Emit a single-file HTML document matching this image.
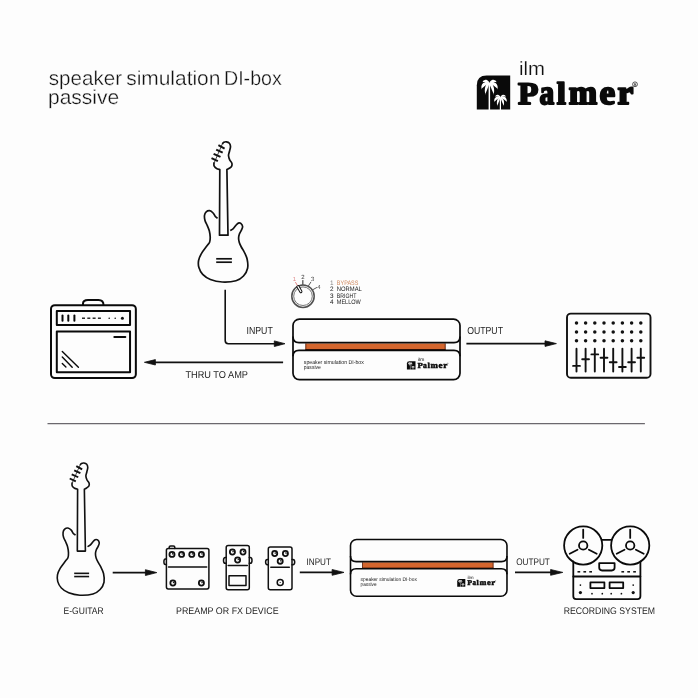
<!DOCTYPE html>
<html><head><meta charset="utf-8"><title>speaker simulation DI-box passive</title>
<style>html,body{margin:0;padding:0;background:#fdfdfd;width:698px;height:698px;overflow:hidden}svg{display:block;will-change:transform;text-rendering:geometricPrecision}</style>
</head><body>
<svg width="698" height="698" viewBox="0 0 698 698">
<rect width="698" height="698" fill="#fdfdfd"/>
<g font-family="Liberation Sans" fill="#111" font-size="19.2" stroke="#fdfdfd" stroke-width="0.3">
<g transform="translate(0,84.5) scale(1,1.06) translate(0,-84.5)">
<text x="48.8" y="84.5" textLength="73.2" lengthAdjust="spacingAndGlyphs">speaker</text>
<text x="126.2" y="84.5" textLength="94.2" lengthAdjust="spacingAndGlyphs">simulation</text>
<text x="224.0" y="84.5" textLength="57.8" lengthAdjust="spacingAndGlyphs">DI-box</text>
</g>
<text x="48.0" y="103.8" textLength="71.2" lengthAdjust="spacingAndGlyphs" transform="translate(0,103.8) scale(1,1.06) translate(0,-103.8)">passive</text>
</g>
<path d="M476.8,109.4 V85.2 Q476.8,75.4 486.6,75.4 H510.2 V109.4 Z" fill="#0a0a0a"/>
<g fill="#fff" stroke="none">
<rect x="488.6" y="83" width="1.5" height="27"/>
<path d="M489.47,83.13 L489.17,82.25 L488.72,81.53 L488.19,80.93 L487.60,80.45 L486.94,80.09 L486.24,79.87 L485.52,79.81 L484.81,79.92 L484.15,80.18 L483.57,80.59 L483.09,81.12 L482.74,81.79 L482.31,82.35 L481.81,82.89 L481.81,82.89 L482.32,82.36 L482.92,82.01 L483.61,81.96 L484.17,81.93 L484.65,81.95 L485.06,82.00 L485.43,82.06 L485.79,82.14 L486.19,82.22 L486.65,82.34 L487.18,82.50 L487.78,82.71 L488.47,82.99 L489.33,83.27Z"/><path d="M489.47,83.27 L490.33,82.99 L491.02,82.72 L491.63,82.50 L492.17,82.34 L492.65,82.23 L493.07,82.14 L493.47,82.06 L493.89,82.00 L494.34,81.95 L494.86,81.94 L495.47,81.96 L496.20,82.01 L496.84,82.36 L497.41,82.89 L497.41,82.89 L496.85,82.35 L496.36,81.79 L495.95,81.11 L495.42,80.58 L494.80,80.18 L494.12,79.92 L493.39,79.81 L492.64,79.87 L491.92,80.08 L491.25,80.44 L490.63,80.93 L490.09,81.53 L489.63,82.24 L489.33,83.13Z"/><path d="M489.41,83.06 L488.42,82.42 L487.40,82.12 L486.37,82.02 L485.36,82.10 L484.40,82.39 L483.52,82.86 L482.76,83.50 L482.14,84.30 L481.70,85.20 L481.43,86.18 L481.35,87.23 L481.52,88.34 L481.46,89.39 L481.29,90.48 L481.29,90.48 L481.48,89.40 L481.90,88.45 L482.67,87.74 L483.32,87.14 L483.90,86.65 L484.43,86.25 L484.92,85.91 L485.37,85.60 L485.84,85.30 L486.34,84.98 L486.92,84.63 L487.61,84.27 L488.42,83.89 L489.39,83.34Z"/><path d="M489.41,83.34 L490.38,83.89 L491.20,84.27 L491.90,84.63 L492.51,84.98 L493.03,85.31 L493.53,85.62 L494.02,85.94 L494.54,86.28 L495.10,86.69 L495.72,87.17 L496.40,87.77 L497.21,88.46 L497.68,89.40 L497.93,90.48 L497.93,90.48 L497.70,89.39 L497.59,88.33 L497.69,87.20 L497.56,86.14 L497.24,85.16 L496.76,84.26 L496.12,83.48 L495.33,82.84 L494.44,82.38 L493.46,82.10 L492.44,82.01 L491.41,82.12 L490.38,82.42 L489.39,83.06Z"/><path d="M489.34,83.10 L488.48,83.09 L487.72,83.41 L487.03,83.91 L486.42,84.57 L485.89,85.35 L485.47,86.25 L485.16,87.25 L484.94,88.35 L484.83,89.52 L484.81,90.78 L484.91,92.11 L485.18,93.52 L485.22,94.98 L485.14,96.51 L485.14,96.51 L485.24,94.98 L485.52,93.56 L486.10,92.27 L486.58,91.07 L487.01,89.98 L487.41,88.99 L487.77,88.09 L488.09,87.28 L488.38,86.54 L488.63,85.87 L488.86,85.25 L489.07,84.66 L489.28,84.05 L489.46,83.30Z"/><path d="M489.34,83.30 L489.52,84.05 L489.74,84.66 L489.96,85.26 L490.20,85.89 L490.47,86.56 L490.78,87.30 L491.12,88.12 L491.50,89.02 L491.92,90.01 L492.38,91.10 L492.89,92.28 L493.51,93.56 L493.83,94.98 L493.98,96.51 L493.98,96.51 L493.85,94.98 L493.85,93.52 L494.08,92.09 L494.14,90.75 L494.10,89.49 L493.95,88.32 L493.71,87.23 L493.37,86.23 L492.93,85.33 L492.40,84.55 L491.78,83.90 L491.08,83.40 L490.32,83.09 L489.46,83.10Z"/>
<rect x="499.8" y="97.5" width="1.2" height="12.5"/>
<path d="M500.45,97.35 L500.23,96.67 L499.88,96.12 L499.47,95.66 L499.01,95.28 L498.51,95.01 L497.97,94.84 L497.42,94.79 L496.87,94.88 L496.36,95.08 L495.92,95.39 L495.55,95.80 L495.28,96.32 L494.95,96.74 L494.56,97.16 L494.56,97.16 L494.95,96.75 L495.41,96.48 L495.94,96.44 L496.38,96.42 L496.75,96.44 L497.06,96.48 L497.34,96.53 L497.63,96.58 L497.93,96.65 L498.29,96.74 L498.69,96.86 L499.16,97.03 L499.69,97.24 L500.35,97.45Z"/><path d="M500.45,97.45 L501.11,97.24 L501.65,97.03 L502.12,96.86 L502.53,96.74 L502.90,96.65 L503.22,96.58 L503.53,96.53 L503.85,96.48 L504.20,96.44 L504.60,96.43 L505.07,96.45 L505.63,96.49 L506.12,96.75 L506.56,97.16 L506.56,97.16 L506.13,96.74 L505.75,96.31 L505.44,95.79 L505.03,95.38 L504.56,95.08 L504.03,94.88 L503.47,94.79 L502.89,94.84 L502.34,95.00 L501.82,95.28 L501.35,95.65 L500.93,96.12 L500.58,96.66 L500.35,97.35Z"/><path d="M500.41,97.29 L499.65,96.80 L498.86,96.57 L498.07,96.49 L497.30,96.56 L496.55,96.77 L495.88,97.14 L495.29,97.63 L494.82,98.24 L494.48,98.94 L494.27,99.70 L494.21,100.50 L494.34,101.35 L494.29,102.16 L494.16,103.00 L494.16,103.00 L494.31,102.17 L494.63,101.44 L495.22,100.89 L495.72,100.43 L496.17,100.05 L496.58,99.74 L496.95,99.49 L497.30,99.25 L497.66,99.01 L498.04,98.77 L498.49,98.50 L499.02,98.22 L499.65,97.93 L500.39,97.51Z"/><path d="M500.41,97.51 L501.16,97.93 L501.79,98.22 L502.33,98.50 L502.79,98.77 L503.20,99.02 L503.58,99.26 L503.95,99.51 L504.35,99.77 L504.78,100.08 L505.26,100.46 L505.78,100.91 L506.41,101.45 L506.77,102.17 L506.96,103.00 L506.96,103.00 L506.79,102.16 L506.70,101.35 L506.78,100.48 L506.67,99.67 L506.43,98.91 L506.06,98.22 L505.57,97.61 L504.96,97.12 L504.27,96.77 L503.52,96.55 L502.74,96.49 L501.94,96.57 L501.15,96.80 L500.39,97.29Z"/><path d="M500.35,97.32 L499.70,97.32 L499.11,97.56 L498.58,97.95 L498.10,98.45 L497.70,99.06 L497.38,99.75 L497.14,100.52 L496.97,101.36 L496.88,102.26 L496.87,103.23 L496.95,104.25 L497.16,105.34 L497.18,106.46 L497.12,107.64 L497.12,107.64 L497.20,106.46 L497.41,105.37 L497.86,104.37 L498.23,103.46 L498.56,102.62 L498.87,101.85 L499.14,101.16 L499.39,100.54 L499.61,99.97 L499.81,99.46 L499.98,98.98 L500.14,98.52 L500.31,98.05 L500.45,97.48Z"/><path d="M500.35,97.48 L500.50,98.06 L500.66,98.52 L500.83,98.99 L501.02,99.47 L501.22,99.99 L501.46,100.56 L501.72,101.18 L502.02,101.88 L502.34,102.64 L502.70,103.47 L503.09,104.39 L503.56,105.37 L503.81,106.46 L503.92,107.64 L503.92,107.64 L503.82,106.46 L503.82,105.34 L504.00,104.24 L504.05,103.21 L504.01,102.24 L503.90,101.34 L503.72,100.50 L503.46,99.73 L503.12,99.04 L502.71,98.44 L502.23,97.94 L501.69,97.56 L501.10,97.32 L500.45,97.32Z"/>
</g>
<text x="519" y="74.8" font-family="Liberation Sans" font-size="19" fill="#111" stroke="#fdfdfd" stroke-width="0.2" textLength="26" lengthAdjust="spacingAndGlyphs">ilm</text>
<g font-family="Liberation Serif" font-weight="bold" font-size="30" fill="#0a0a0a" stroke="#0a0a0a" stroke-width="1.8" stroke-linejoin="round"><text x="518.0" y="103.8" textLength="20.4" lengthAdjust="spacingAndGlyphs" transform="translate(0,103.8) scale(1,1.05) translate(0,-103.8)">P</text><text x="539.5" y="103.8" textLength="14.7" lengthAdjust="spacingAndGlyphs" transform="translate(0,103.8) scale(1,1.15) translate(0,-103.8)">a</text><text x="556.7" y="103.8" textLength="9.2" lengthAdjust="spacingAndGlyphs" transform="translate(0,103.8) scale(1,1.05) translate(0,-103.8)">l</text><text x="568.7" y="103.8" textLength="28.5" lengthAdjust="spacingAndGlyphs" transform="translate(0,103.8) scale(1,1.15) translate(0,-103.8)">m</text><text x="599.5" y="103.8" textLength="15.7" lengthAdjust="spacingAndGlyphs" transform="translate(0,103.8) scale(1,1.15) translate(0,-103.8)">e</text><text x="617.5" y="103.8" textLength="15.8" lengthAdjust="spacingAndGlyphs" transform="translate(0,103.8) scale(1,1.15) translate(0,-103.8)">r</text></g>
<circle cx="635" cy="84.3" r="2.4" fill="none" stroke="#111" stroke-width="0.7"/>
<text x="635" y="85.6" font-family="Liberation Sans" font-size="3.5" font-weight="bold" fill="#111" text-anchor="middle">R</text>
<g fill="none" stroke="#111" stroke-width="1.7" stroke-linejoin="round" stroke-linecap="butt">
<path d="M222.30,144.00 C222.57,143.72 223.22,142.67 223.90,142.30 C224.58,141.93 225.48,141.65 226.40,141.80 C227.32,141.95 228.72,142.40 229.40,143.20 C230.08,144.00 230.48,145.25 230.50,146.60 C230.52,147.95 229.83,149.80 229.50,151.30 C229.17,152.80 228.47,154.18 228.50,155.60 C228.53,157.02 229.13,158.53 229.70,159.80 C230.27,161.07 231.58,162.12 231.90,163.20 C232.22,164.28 232.05,165.45 231.60,166.30 C231.15,167.15 229.98,167.75 229.20,168.30 C228.42,168.85 227.28,169.38 226.90,169.60 L228.0,235.2 L219.5,235.2 L219.8,169.6 C219.27,169.42 217.53,169.07 216.60,168.50 C215.67,167.93 214.65,167.02 214.20,166.20 C213.75,165.38 213.87,164.25 213.90,163.60 C213.93,162.95 214.32,162.52 214.40,162.30"/>
<path d="M214.4,162.3 L222.3,144.0" stroke-width="0.8"/>
<path d="M217.60,218.20 C217.22,217.92 216.05,217.37 215.30,216.50 C214.55,215.63 214.05,213.97 213.10,213.00 C212.15,212.03 210.75,210.88 209.60,210.70 C208.45,210.52 207.05,211.13 206.20,211.90 C205.35,212.67 204.70,213.87 204.50,215.30 C204.30,216.73 204.53,218.78 205.00,220.50 C205.47,222.22 206.58,223.88 207.30,225.60 C208.02,227.32 208.82,228.88 209.30,230.80 C209.78,232.72 210.15,235.20 210.20,237.10 C210.25,239.00 210.13,240.75 209.60,242.20 C209.07,243.65 208.37,243.90 207.00,245.80 C205.63,247.70 202.80,251.15 201.40,253.60 C200.00,256.05 199.02,258.17 198.60,260.50 C198.18,262.83 198.22,265.28 198.90,267.60 C199.58,269.92 200.78,272.42 202.70,274.40 C204.62,276.38 207.15,278.23 210.40,279.50 C213.65,280.77 217.93,281.80 222.20,282.00 C226.47,282.20 232.45,281.70 236.00,280.70 C239.55,279.70 241.57,278.08 243.50,276.00 C245.43,273.92 247.00,271.03 247.60,268.20 C248.20,265.37 247.67,261.70 247.10,259.00 C246.53,256.30 245.17,254.00 244.20,252.00 C243.23,250.00 242.12,248.58 241.30,247.00 C240.48,245.42 239.75,244.00 239.30,242.50 C238.85,241.00 238.58,239.42 238.60,238.00 C238.62,236.58 238.93,235.30 239.40,234.00 C239.87,232.70 240.87,231.45 241.40,230.20 C241.93,228.95 242.70,227.63 242.60,226.50 C242.50,225.37 241.52,223.97 240.80,223.40 C240.08,222.83 239.10,222.80 238.30,223.10 C237.50,223.40 236.83,224.28 236.00,225.20 C235.17,226.12 234.27,227.72 233.30,228.60 C232.33,229.48 230.72,230.18 230.20,230.50"/>
<g stroke-width="2.0"><line x1="218.4" y1="145.1" x2="224.6" y2="148.6"/><line x1="216.2" y1="149.6" x2="222.7" y2="152.6"/><line x1="213.6" y1="153.9" x2="220.5" y2="156.9"/><line x1="211.5" y1="158.2" x2="217.9" y2="161.2"/></g>
<line x1="216.2" y1="258.8" x2="231.9" y2="258.8"/><line x1="216.2" y1="262.2" x2="231.9" y2="262.2"/>
</g>
<g transform="translate(-131.2,329.3) scale(0.95,0.943)"><g fill="none" stroke="#111" stroke-width="1.7" stroke-linejoin="round" stroke-linecap="butt">
<path d="M222.30,144.00 C222.57,143.72 223.22,142.67 223.90,142.30 C224.58,141.93 225.48,141.65 226.40,141.80 C227.32,141.95 228.72,142.40 229.40,143.20 C230.08,144.00 230.48,145.25 230.50,146.60 C230.52,147.95 229.83,149.80 229.50,151.30 C229.17,152.80 228.47,154.18 228.50,155.60 C228.53,157.02 229.13,158.53 229.70,159.80 C230.27,161.07 231.58,162.12 231.90,163.20 C232.22,164.28 232.05,165.45 231.60,166.30 C231.15,167.15 229.98,167.75 229.20,168.30 C228.42,168.85 227.28,169.38 226.90,169.60 L228.0,235.2 L219.5,235.2 L219.8,169.6 C219.27,169.42 217.53,169.07 216.60,168.50 C215.67,167.93 214.65,167.02 214.20,166.20 C213.75,165.38 213.87,164.25 213.90,163.60 C213.93,162.95 214.32,162.52 214.40,162.30"/>
<path d="M214.4,162.3 L222.3,144.0" stroke-width="0.8"/>
<path d="M217.60,218.20 C217.22,217.92 216.05,217.37 215.30,216.50 C214.55,215.63 214.05,213.97 213.10,213.00 C212.15,212.03 210.75,210.88 209.60,210.70 C208.45,210.52 207.05,211.13 206.20,211.90 C205.35,212.67 204.70,213.87 204.50,215.30 C204.30,216.73 204.53,218.78 205.00,220.50 C205.47,222.22 206.58,223.88 207.30,225.60 C208.02,227.32 208.82,228.88 209.30,230.80 C209.78,232.72 210.15,235.20 210.20,237.10 C210.25,239.00 210.13,240.75 209.60,242.20 C209.07,243.65 208.37,243.90 207.00,245.80 C205.63,247.70 202.80,251.15 201.40,253.60 C200.00,256.05 199.02,258.17 198.60,260.50 C198.18,262.83 198.22,265.28 198.90,267.60 C199.58,269.92 200.78,272.42 202.70,274.40 C204.62,276.38 207.15,278.23 210.40,279.50 C213.65,280.77 217.93,281.80 222.20,282.00 C226.47,282.20 232.45,281.70 236.00,280.70 C239.55,279.70 241.57,278.08 243.50,276.00 C245.43,273.92 247.00,271.03 247.60,268.20 C248.20,265.37 247.67,261.70 247.10,259.00 C246.53,256.30 245.17,254.00 244.20,252.00 C243.23,250.00 242.12,248.58 241.30,247.00 C240.48,245.42 239.75,244.00 239.30,242.50 C238.85,241.00 238.58,239.42 238.60,238.00 C238.62,236.58 238.93,235.30 239.40,234.00 C239.87,232.70 240.87,231.45 241.40,230.20 C241.93,228.95 242.70,227.63 242.60,226.50 C242.50,225.37 241.52,223.97 240.80,223.40 C240.08,222.83 239.10,222.80 238.30,223.10 C237.50,223.40 236.83,224.28 236.00,225.20 C235.17,226.12 234.27,227.72 233.30,228.60 C232.33,229.48 230.72,230.18 230.20,230.50"/>
<g stroke-width="2.0"><line x1="218.4" y1="145.1" x2="224.6" y2="148.6"/><line x1="216.2" y1="149.6" x2="222.7" y2="152.6"/><line x1="213.6" y1="153.9" x2="220.5" y2="156.9"/><line x1="211.5" y1="158.2" x2="217.9" y2="161.2"/></g>
<line x1="216.2" y1="258.8" x2="231.9" y2="258.8"/><line x1="216.2" y1="262.2" x2="231.9" y2="262.2"/>
</g></g>
<g>
<circle cx="303" cy="296.2" r="11.2" fill="none" stroke="#505050" stroke-width="1.5"/>
<circle cx="303" cy="296.2" r="9.3" fill="none" stroke="#666" stroke-width="0.9"/>
<line x1="298.0" y1="286.6" x2="300.9" y2="291.6" stroke="#111" stroke-width="3.1" stroke-linecap="round"/>
<line x1="298.0" y1="286.6" x2="300.9" y2="291.6" stroke="#fff" stroke-width="1.2" stroke-linecap="round"/>
<g stroke-width="0.9" stroke-linecap="round">
<line x1="297.2" y1="285.2" x2="295.6" y2="282.4" stroke="#e07a7a"/>
<line x1="302.8" y1="284.5" x2="302.8" y2="280.6" stroke="#555" stroke-width="1.3"/>
<line x1="308.6" y1="285.6" x2="310.8" y2="282.2" stroke="#444"/>
<line x1="313.4" y1="289.4" x2="316.6" y2="287.6" stroke="#444"/>
</g>
<g font-family="Liberation Sans" font-size="6" fill="#444" text-anchor="middle">
<text x="294.3" y="281.2" fill="#e08a8a">1</text>
<text x="302.8" y="279.0">2</text>
<text x="312.6" y="281.3">3</text>
<text x="319.0" y="288.6">4</text>
</g>
<g font-family="Liberation Sans" font-size="6.4" fill="#222">
<text x="329.9" y="284.7" fill="#888">1</text>
<text x="329.9" y="291.1">2</text>
<text x="329.9" y="297.6">3</text>
<text x="329.9" y="304.0">4</text>
<text x="336.8" y="284.7" fill="#d08a60" textLength="21.6" lengthAdjust="spacingAndGlyphs">BYPASS</text>
<text x="336.8" y="291.1" textLength="25" lengthAdjust="spacingAndGlyphs">NORMAL</text>
<text x="336.8" y="297.6" textLength="19.7" lengthAdjust="spacingAndGlyphs">BRIGHT</text>
<text x="336.8" y="304.0" textLength="24" lengthAdjust="spacingAndGlyphs">MELLOW</text>
</g>
</g>
<g>
<rect x="305.5" y="343.4" width="140" height="6.6" fill="#d4662e"/>
<line x1="305.5" y1="349.6" x2="445.5" y2="349.6" stroke="#3a0d00" stroke-width="1"/>
<line x1="305.8" y1="343.4" x2="305.8" y2="350" stroke="#3a0d00" stroke-width="0.7"/><line x1="445.2" y1="343.4" x2="445.2" y2="350" stroke="#3a0d00" stroke-width="0.7"/>
<g fill="none" stroke="#0a0a0a" stroke-width="1.7">
<rect x="293" y="319.1" width="167" height="60.6" rx="6.5" ry="6.5"/>
<path d="M293,336.6 Q293,342.7 299,342.7 H454 Q460,342.7 460,336.6"/>
<path d="M293,356.2 Q293,350.4 299,350.4 H454 Q460,350.4 460,356.2"/>
</g>
<text x="303.8" y="363.8" font-family="Liberation Sans" font-size="5.6" fill="#222" textLength="60" lengthAdjust="spacingAndGlyphs">speaker simulation DI-box</text>
<text x="303.8" y="368.8" font-family="Liberation Sans" font-size="5.6" fill="#222" textLength="17" lengthAdjust="spacingAndGlyphs">passive</text>
<g transform="translate(406.9,361.2) scale(0.258,0.245) translate(-476.8,-75.4)"><path d="M476.8,109.4 V85.2 Q476.8,75.4 486.6,75.4 H510.2 V109.4 Z" fill="#0a0a0a"/>
<g fill="#fff" stroke="none">
<rect x="488.6" y="83" width="1.5" height="27"/>
<path d="M489.47,83.13 L489.17,82.25 L488.72,81.53 L488.19,80.93 L487.60,80.45 L486.94,80.09 L486.24,79.87 L485.52,79.81 L484.81,79.92 L484.15,80.18 L483.57,80.59 L483.09,81.12 L482.74,81.79 L482.31,82.35 L481.81,82.89 L481.81,82.89 L482.32,82.36 L482.92,82.01 L483.61,81.96 L484.17,81.93 L484.65,81.95 L485.06,82.00 L485.43,82.06 L485.79,82.14 L486.19,82.22 L486.65,82.34 L487.18,82.50 L487.78,82.71 L488.47,82.99 L489.33,83.27Z"/><path d="M489.47,83.27 L490.33,82.99 L491.02,82.72 L491.63,82.50 L492.17,82.34 L492.65,82.23 L493.07,82.14 L493.47,82.06 L493.89,82.00 L494.34,81.95 L494.86,81.94 L495.47,81.96 L496.20,82.01 L496.84,82.36 L497.41,82.89 L497.41,82.89 L496.85,82.35 L496.36,81.79 L495.95,81.11 L495.42,80.58 L494.80,80.18 L494.12,79.92 L493.39,79.81 L492.64,79.87 L491.92,80.08 L491.25,80.44 L490.63,80.93 L490.09,81.53 L489.63,82.24 L489.33,83.13Z"/><path d="M489.41,83.06 L488.42,82.42 L487.40,82.12 L486.37,82.02 L485.36,82.10 L484.40,82.39 L483.52,82.86 L482.76,83.50 L482.14,84.30 L481.70,85.20 L481.43,86.18 L481.35,87.23 L481.52,88.34 L481.46,89.39 L481.29,90.48 L481.29,90.48 L481.48,89.40 L481.90,88.45 L482.67,87.74 L483.32,87.14 L483.90,86.65 L484.43,86.25 L484.92,85.91 L485.37,85.60 L485.84,85.30 L486.34,84.98 L486.92,84.63 L487.61,84.27 L488.42,83.89 L489.39,83.34Z"/><path d="M489.41,83.34 L490.38,83.89 L491.20,84.27 L491.90,84.63 L492.51,84.98 L493.03,85.31 L493.53,85.62 L494.02,85.94 L494.54,86.28 L495.10,86.69 L495.72,87.17 L496.40,87.77 L497.21,88.46 L497.68,89.40 L497.93,90.48 L497.93,90.48 L497.70,89.39 L497.59,88.33 L497.69,87.20 L497.56,86.14 L497.24,85.16 L496.76,84.26 L496.12,83.48 L495.33,82.84 L494.44,82.38 L493.46,82.10 L492.44,82.01 L491.41,82.12 L490.38,82.42 L489.39,83.06Z"/><path d="M489.34,83.10 L488.48,83.09 L487.72,83.41 L487.03,83.91 L486.42,84.57 L485.89,85.35 L485.47,86.25 L485.16,87.25 L484.94,88.35 L484.83,89.52 L484.81,90.78 L484.91,92.11 L485.18,93.52 L485.22,94.98 L485.14,96.51 L485.14,96.51 L485.24,94.98 L485.52,93.56 L486.10,92.27 L486.58,91.07 L487.01,89.98 L487.41,88.99 L487.77,88.09 L488.09,87.28 L488.38,86.54 L488.63,85.87 L488.86,85.25 L489.07,84.66 L489.28,84.05 L489.46,83.30Z"/><path d="M489.34,83.30 L489.52,84.05 L489.74,84.66 L489.96,85.26 L490.20,85.89 L490.47,86.56 L490.78,87.30 L491.12,88.12 L491.50,89.02 L491.92,90.01 L492.38,91.10 L492.89,92.28 L493.51,93.56 L493.83,94.98 L493.98,96.51 L493.98,96.51 L493.85,94.98 L493.85,93.52 L494.08,92.09 L494.14,90.75 L494.10,89.49 L493.95,88.32 L493.71,87.23 L493.37,86.23 L492.93,85.33 L492.40,84.55 L491.78,83.90 L491.08,83.40 L490.32,83.09 L489.46,83.10Z"/>
<rect x="499.8" y="97.5" width="1.2" height="12.5"/>
<path d="M500.45,97.35 L500.23,96.67 L499.88,96.12 L499.47,95.66 L499.01,95.28 L498.51,95.01 L497.97,94.84 L497.42,94.79 L496.87,94.88 L496.36,95.08 L495.92,95.39 L495.55,95.80 L495.28,96.32 L494.95,96.74 L494.56,97.16 L494.56,97.16 L494.95,96.75 L495.41,96.48 L495.94,96.44 L496.38,96.42 L496.75,96.44 L497.06,96.48 L497.34,96.53 L497.63,96.58 L497.93,96.65 L498.29,96.74 L498.69,96.86 L499.16,97.03 L499.69,97.24 L500.35,97.45Z"/><path d="M500.45,97.45 L501.11,97.24 L501.65,97.03 L502.12,96.86 L502.53,96.74 L502.90,96.65 L503.22,96.58 L503.53,96.53 L503.85,96.48 L504.20,96.44 L504.60,96.43 L505.07,96.45 L505.63,96.49 L506.12,96.75 L506.56,97.16 L506.56,97.16 L506.13,96.74 L505.75,96.31 L505.44,95.79 L505.03,95.38 L504.56,95.08 L504.03,94.88 L503.47,94.79 L502.89,94.84 L502.34,95.00 L501.82,95.28 L501.35,95.65 L500.93,96.12 L500.58,96.66 L500.35,97.35Z"/><path d="M500.41,97.29 L499.65,96.80 L498.86,96.57 L498.07,96.49 L497.30,96.56 L496.55,96.77 L495.88,97.14 L495.29,97.63 L494.82,98.24 L494.48,98.94 L494.27,99.70 L494.21,100.50 L494.34,101.35 L494.29,102.16 L494.16,103.00 L494.16,103.00 L494.31,102.17 L494.63,101.44 L495.22,100.89 L495.72,100.43 L496.17,100.05 L496.58,99.74 L496.95,99.49 L497.30,99.25 L497.66,99.01 L498.04,98.77 L498.49,98.50 L499.02,98.22 L499.65,97.93 L500.39,97.51Z"/><path d="M500.41,97.51 L501.16,97.93 L501.79,98.22 L502.33,98.50 L502.79,98.77 L503.20,99.02 L503.58,99.26 L503.95,99.51 L504.35,99.77 L504.78,100.08 L505.26,100.46 L505.78,100.91 L506.41,101.45 L506.77,102.17 L506.96,103.00 L506.96,103.00 L506.79,102.16 L506.70,101.35 L506.78,100.48 L506.67,99.67 L506.43,98.91 L506.06,98.22 L505.57,97.61 L504.96,97.12 L504.27,96.77 L503.52,96.55 L502.74,96.49 L501.94,96.57 L501.15,96.80 L500.39,97.29Z"/><path d="M500.35,97.32 L499.70,97.32 L499.11,97.56 L498.58,97.95 L498.10,98.45 L497.70,99.06 L497.38,99.75 L497.14,100.52 L496.97,101.36 L496.88,102.26 L496.87,103.23 L496.95,104.25 L497.16,105.34 L497.18,106.46 L497.12,107.64 L497.12,107.64 L497.20,106.46 L497.41,105.37 L497.86,104.37 L498.23,103.46 L498.56,102.62 L498.87,101.85 L499.14,101.16 L499.39,100.54 L499.61,99.97 L499.81,99.46 L499.98,98.98 L500.14,98.52 L500.31,98.05 L500.45,97.48Z"/><path d="M500.35,97.48 L500.50,98.06 L500.66,98.52 L500.83,98.99 L501.02,99.47 L501.22,99.99 L501.46,100.56 L501.72,101.18 L502.02,101.88 L502.34,102.64 L502.70,103.47 L503.09,104.39 L503.56,105.37 L503.81,106.46 L503.92,107.64 L503.92,107.64 L503.82,106.46 L503.82,105.34 L504.00,104.24 L504.05,103.21 L504.01,102.24 L503.90,101.34 L503.72,100.50 L503.46,99.73 L503.12,99.04 L502.71,98.44 L502.23,97.94 L501.69,97.56 L501.10,97.32 L500.45,97.32Z"/>
</g>
<text x="519" y="74.8" font-family="Liberation Sans" font-size="19" fill="#111"  textLength="26" lengthAdjust="spacingAndGlyphs">ilm</text>
<g font-family="Liberation Serif" font-weight="bold" font-size="30" fill="#0a0a0a" stroke="#0a0a0a" stroke-width="1.8" stroke-linejoin="round"><text x="518.0" y="103.8" textLength="20.4" lengthAdjust="spacingAndGlyphs" transform="translate(0,103.8) scale(1,1.05) translate(0,-103.8)">P</text><text x="539.5" y="103.8" textLength="14.7" lengthAdjust="spacingAndGlyphs" transform="translate(0,103.8) scale(1,1.15) translate(0,-103.8)">a</text><text x="556.7" y="103.8" textLength="9.2" lengthAdjust="spacingAndGlyphs" transform="translate(0,103.8) scale(1,1.05) translate(0,-103.8)">l</text><text x="568.7" y="103.8" textLength="28.5" lengthAdjust="spacingAndGlyphs" transform="translate(0,103.8) scale(1,1.15) translate(0,-103.8)">m</text><text x="599.5" y="103.8" textLength="15.7" lengthAdjust="spacingAndGlyphs" transform="translate(0,103.8) scale(1,1.15) translate(0,-103.8)">e</text><text x="617.5" y="103.8" textLength="15.8" lengthAdjust="spacingAndGlyphs" transform="translate(0,103.8) scale(1,1.15) translate(0,-103.8)">r</text></g>
<circle cx="635" cy="84.3" r="2.4" fill="none" stroke="#111" stroke-width="0.7"/>
<text x="635" y="85.6" font-family="Liberation Sans" font-size="3.5" font-weight="bold" fill="#111" text-anchor="middle">R</text></g>
</g>
<g transform="translate(350.5,539.5) scale(0.937) translate(-293,-319.1)"><g>
<rect x="305.5" y="343.4" width="140" height="6.6" fill="#d4662e"/>
<line x1="305.5" y1="349.6" x2="445.5" y2="349.6" stroke="#3a0d00" stroke-width="1"/>
<line x1="305.8" y1="343.4" x2="305.8" y2="350" stroke="#3a0d00" stroke-width="0.7"/><line x1="445.2" y1="343.4" x2="445.2" y2="350" stroke="#3a0d00" stroke-width="0.7"/>
<g fill="none" stroke="#0a0a0a" stroke-width="1.7">
<rect x="293" y="319.1" width="167" height="60.6" rx="6.5" ry="6.5"/>
<path d="M293,336.6 Q293,342.7 299,342.7 H454 Q460,342.7 460,336.6"/>
<path d="M293,356.2 Q293,350.4 299,350.4 H454 Q460,350.4 460,356.2"/>
</g>
<text x="303.8" y="363.8" font-family="Liberation Sans" font-size="5.6" fill="#222" textLength="60" lengthAdjust="spacingAndGlyphs">speaker simulation DI-box</text>
<text x="303.8" y="368.8" font-family="Liberation Sans" font-size="5.6" fill="#222" textLength="17" lengthAdjust="spacingAndGlyphs">passive</text>
<g transform="translate(406.9,361.2) scale(0.258,0.245) translate(-476.8,-75.4)"><path d="M476.8,109.4 V85.2 Q476.8,75.4 486.6,75.4 H510.2 V109.4 Z" fill="#0a0a0a"/>
<g fill="#fff" stroke="none">
<rect x="488.6" y="83" width="1.5" height="27"/>
<path d="M489.47,83.13 L489.17,82.25 L488.72,81.53 L488.19,80.93 L487.60,80.45 L486.94,80.09 L486.24,79.87 L485.52,79.81 L484.81,79.92 L484.15,80.18 L483.57,80.59 L483.09,81.12 L482.74,81.79 L482.31,82.35 L481.81,82.89 L481.81,82.89 L482.32,82.36 L482.92,82.01 L483.61,81.96 L484.17,81.93 L484.65,81.95 L485.06,82.00 L485.43,82.06 L485.79,82.14 L486.19,82.22 L486.65,82.34 L487.18,82.50 L487.78,82.71 L488.47,82.99 L489.33,83.27Z"/><path d="M489.47,83.27 L490.33,82.99 L491.02,82.72 L491.63,82.50 L492.17,82.34 L492.65,82.23 L493.07,82.14 L493.47,82.06 L493.89,82.00 L494.34,81.95 L494.86,81.94 L495.47,81.96 L496.20,82.01 L496.84,82.36 L497.41,82.89 L497.41,82.89 L496.85,82.35 L496.36,81.79 L495.95,81.11 L495.42,80.58 L494.80,80.18 L494.12,79.92 L493.39,79.81 L492.64,79.87 L491.92,80.08 L491.25,80.44 L490.63,80.93 L490.09,81.53 L489.63,82.24 L489.33,83.13Z"/><path d="M489.41,83.06 L488.42,82.42 L487.40,82.12 L486.37,82.02 L485.36,82.10 L484.40,82.39 L483.52,82.86 L482.76,83.50 L482.14,84.30 L481.70,85.20 L481.43,86.18 L481.35,87.23 L481.52,88.34 L481.46,89.39 L481.29,90.48 L481.29,90.48 L481.48,89.40 L481.90,88.45 L482.67,87.74 L483.32,87.14 L483.90,86.65 L484.43,86.25 L484.92,85.91 L485.37,85.60 L485.84,85.30 L486.34,84.98 L486.92,84.63 L487.61,84.27 L488.42,83.89 L489.39,83.34Z"/><path d="M489.41,83.34 L490.38,83.89 L491.20,84.27 L491.90,84.63 L492.51,84.98 L493.03,85.31 L493.53,85.62 L494.02,85.94 L494.54,86.28 L495.10,86.69 L495.72,87.17 L496.40,87.77 L497.21,88.46 L497.68,89.40 L497.93,90.48 L497.93,90.48 L497.70,89.39 L497.59,88.33 L497.69,87.20 L497.56,86.14 L497.24,85.16 L496.76,84.26 L496.12,83.48 L495.33,82.84 L494.44,82.38 L493.46,82.10 L492.44,82.01 L491.41,82.12 L490.38,82.42 L489.39,83.06Z"/><path d="M489.34,83.10 L488.48,83.09 L487.72,83.41 L487.03,83.91 L486.42,84.57 L485.89,85.35 L485.47,86.25 L485.16,87.25 L484.94,88.35 L484.83,89.52 L484.81,90.78 L484.91,92.11 L485.18,93.52 L485.22,94.98 L485.14,96.51 L485.14,96.51 L485.24,94.98 L485.52,93.56 L486.10,92.27 L486.58,91.07 L487.01,89.98 L487.41,88.99 L487.77,88.09 L488.09,87.28 L488.38,86.54 L488.63,85.87 L488.86,85.25 L489.07,84.66 L489.28,84.05 L489.46,83.30Z"/><path d="M489.34,83.30 L489.52,84.05 L489.74,84.66 L489.96,85.26 L490.20,85.89 L490.47,86.56 L490.78,87.30 L491.12,88.12 L491.50,89.02 L491.92,90.01 L492.38,91.10 L492.89,92.28 L493.51,93.56 L493.83,94.98 L493.98,96.51 L493.98,96.51 L493.85,94.98 L493.85,93.52 L494.08,92.09 L494.14,90.75 L494.10,89.49 L493.95,88.32 L493.71,87.23 L493.37,86.23 L492.93,85.33 L492.40,84.55 L491.78,83.90 L491.08,83.40 L490.32,83.09 L489.46,83.10Z"/>
<rect x="499.8" y="97.5" width="1.2" height="12.5"/>
<path d="M500.45,97.35 L500.23,96.67 L499.88,96.12 L499.47,95.66 L499.01,95.28 L498.51,95.01 L497.97,94.84 L497.42,94.79 L496.87,94.88 L496.36,95.08 L495.92,95.39 L495.55,95.80 L495.28,96.32 L494.95,96.74 L494.56,97.16 L494.56,97.16 L494.95,96.75 L495.41,96.48 L495.94,96.44 L496.38,96.42 L496.75,96.44 L497.06,96.48 L497.34,96.53 L497.63,96.58 L497.93,96.65 L498.29,96.74 L498.69,96.86 L499.16,97.03 L499.69,97.24 L500.35,97.45Z"/><path d="M500.45,97.45 L501.11,97.24 L501.65,97.03 L502.12,96.86 L502.53,96.74 L502.90,96.65 L503.22,96.58 L503.53,96.53 L503.85,96.48 L504.20,96.44 L504.60,96.43 L505.07,96.45 L505.63,96.49 L506.12,96.75 L506.56,97.16 L506.56,97.16 L506.13,96.74 L505.75,96.31 L505.44,95.79 L505.03,95.38 L504.56,95.08 L504.03,94.88 L503.47,94.79 L502.89,94.84 L502.34,95.00 L501.82,95.28 L501.35,95.65 L500.93,96.12 L500.58,96.66 L500.35,97.35Z"/><path d="M500.41,97.29 L499.65,96.80 L498.86,96.57 L498.07,96.49 L497.30,96.56 L496.55,96.77 L495.88,97.14 L495.29,97.63 L494.82,98.24 L494.48,98.94 L494.27,99.70 L494.21,100.50 L494.34,101.35 L494.29,102.16 L494.16,103.00 L494.16,103.00 L494.31,102.17 L494.63,101.44 L495.22,100.89 L495.72,100.43 L496.17,100.05 L496.58,99.74 L496.95,99.49 L497.30,99.25 L497.66,99.01 L498.04,98.77 L498.49,98.50 L499.02,98.22 L499.65,97.93 L500.39,97.51Z"/><path d="M500.41,97.51 L501.16,97.93 L501.79,98.22 L502.33,98.50 L502.79,98.77 L503.20,99.02 L503.58,99.26 L503.95,99.51 L504.35,99.77 L504.78,100.08 L505.26,100.46 L505.78,100.91 L506.41,101.45 L506.77,102.17 L506.96,103.00 L506.96,103.00 L506.79,102.16 L506.70,101.35 L506.78,100.48 L506.67,99.67 L506.43,98.91 L506.06,98.22 L505.57,97.61 L504.96,97.12 L504.27,96.77 L503.52,96.55 L502.74,96.49 L501.94,96.57 L501.15,96.80 L500.39,97.29Z"/><path d="M500.35,97.32 L499.70,97.32 L499.11,97.56 L498.58,97.95 L498.10,98.45 L497.70,99.06 L497.38,99.75 L497.14,100.52 L496.97,101.36 L496.88,102.26 L496.87,103.23 L496.95,104.25 L497.16,105.34 L497.18,106.46 L497.12,107.64 L497.12,107.64 L497.20,106.46 L497.41,105.37 L497.86,104.37 L498.23,103.46 L498.56,102.62 L498.87,101.85 L499.14,101.16 L499.39,100.54 L499.61,99.97 L499.81,99.46 L499.98,98.98 L500.14,98.52 L500.31,98.05 L500.45,97.48Z"/><path d="M500.35,97.48 L500.50,98.06 L500.66,98.52 L500.83,98.99 L501.02,99.47 L501.22,99.99 L501.46,100.56 L501.72,101.18 L502.02,101.88 L502.34,102.64 L502.70,103.47 L503.09,104.39 L503.56,105.37 L503.81,106.46 L503.92,107.64 L503.92,107.64 L503.82,106.46 L503.82,105.34 L504.00,104.24 L504.05,103.21 L504.01,102.24 L503.90,101.34 L503.72,100.50 L503.46,99.73 L503.12,99.04 L502.71,98.44 L502.23,97.94 L501.69,97.56 L501.10,97.32 L500.45,97.32Z"/>
</g>
<text x="519" y="74.8" font-family="Liberation Sans" font-size="19" fill="#111"  textLength="26" lengthAdjust="spacingAndGlyphs">ilm</text>
<g font-family="Liberation Serif" font-weight="bold" font-size="30" fill="#0a0a0a" stroke="#0a0a0a" stroke-width="1.8" stroke-linejoin="round"><text x="518.0" y="103.8" textLength="20.4" lengthAdjust="spacingAndGlyphs" transform="translate(0,103.8) scale(1,1.05) translate(0,-103.8)">P</text><text x="539.5" y="103.8" textLength="14.7" lengthAdjust="spacingAndGlyphs" transform="translate(0,103.8) scale(1,1.15) translate(0,-103.8)">a</text><text x="556.7" y="103.8" textLength="9.2" lengthAdjust="spacingAndGlyphs" transform="translate(0,103.8) scale(1,1.05) translate(0,-103.8)">l</text><text x="568.7" y="103.8" textLength="28.5" lengthAdjust="spacingAndGlyphs" transform="translate(0,103.8) scale(1,1.15) translate(0,-103.8)">m</text><text x="599.5" y="103.8" textLength="15.7" lengthAdjust="spacingAndGlyphs" transform="translate(0,103.8) scale(1,1.15) translate(0,-103.8)">e</text><text x="617.5" y="103.8" textLength="15.8" lengthAdjust="spacingAndGlyphs" transform="translate(0,103.8) scale(1,1.15) translate(0,-103.8)">r</text></g>
<circle cx="635" cy="84.3" r="2.4" fill="none" stroke="#111" stroke-width="0.7"/>
<text x="635" y="85.6" font-family="Liberation Sans" font-size="3.5" font-weight="bold" fill="#111" text-anchor="middle">R</text></g>
</g></g>
<g fill="none" stroke="#0a0a0a" stroke-width="2" stroke-linecap="round" stroke-linejoin="round">
<path d="M83,305 V303.5 Q83,300 88,300 H98.5 Q103.5,300 103.5,305"/>
<rect x="51" y="305.2" width="84.85" height="72.85" rx="3.8"/>
<rect x="56.8" y="310.9" width="73.25" height="14.1"/>
<rect x="56.8" y="331.5" width="73.25" height="40.8"/>
<line x1="62.5" y1="315.6" x2="62.5" y2="320.8"/><line x1="68.3" y1="315.6" x2="68.3" y2="320.8"/><line x1="74.4" y1="315.6" x2="74.4" y2="320.8"/>
<g stroke-width="1.3" stroke-linecap="butt"><line x1="82" y1="318.2" x2="85" y2="318.2"/><line x1="87.3" y1="318.2" x2="90.3" y2="318.2"/><line x1="92.6" y1="318.2" x2="95.6" y2="318.2"/><line x1="97.9" y1="318.2" x2="100.9" y2="318.2"/></g>
<line x1="114.3" y1="337" x2="125.3" y2="337"/>
<g stroke-width="1.4"><line x1="62.3" y1="351.4" x2="78.4" y2="367.2"/><line x1="62.3" y1="357.1" x2="72.2" y2="367.2"/><line x1="62.3" y1="363.5" x2="65.9" y2="367.0"/></g>
</g>
<g fill="#111"><circle cx="109.2" cy="318.2" r="0.8"/><circle cx="115.2" cy="318.2" r="0.8"/><circle cx="122.4" cy="318.2" r="1.5"/></g>
<g fill="none" stroke="#111" stroke-width="1.9" stroke-linecap="round"><rect x="567" y="313.6" width="83.5" height="64.2" rx="3.8"/><line x1="576.5" y1="348.7" x2="576.5" y2="371.6"/><line x1="573.1" y1="365.9" x2="579.9" y2="365.9"/><line x1="585.6" y1="348.7" x2="585.6" y2="371.6"/><line x1="582.2" y1="359.2" x2="589.0" y2="359.2"/><line x1="594.8" y1="348.7" x2="594.8" y2="371.6"/><line x1="591.4" y1="354.4" x2="598.2" y2="354.4"/><line x1="604.0" y1="348.7" x2="604.0" y2="371.6"/><line x1="600.6" y1="357.7" x2="607.4" y2="357.7"/><line x1="613.2" y1="348.7" x2="613.2" y2="371.6"/><line x1="609.8" y1="362.3" x2="616.6" y2="362.3"/><line x1="622.4" y1="348.7" x2="622.4" y2="371.6"/><line x1="619.0" y1="367.0" x2="625.8" y2="367.0"/><line x1="631.6" y1="348.7" x2="631.6" y2="371.6"/><line x1="628.2" y1="362.3" x2="635.0" y2="362.3"/><line x1="640.8" y1="348.7" x2="640.8" y2="371.6"/><line x1="637.4" y1="357.7" x2="644.2" y2="357.7"/></g><g fill="#111"><circle cx="576.5" cy="322.9" r="1.75"/><circle cx="585.6" cy="322.9" r="1.75"/><circle cx="594.8" cy="322.9" r="1.75"/><circle cx="604.0" cy="322.9" r="1.75"/><circle cx="613.2" cy="322.9" r="1.75"/><circle cx="622.4" cy="322.9" r="1.75"/><circle cx="631.6" cy="322.9" r="1.75"/><circle cx="640.8" cy="322.9" r="1.75"/><circle cx="576.5" cy="331.9" r="1.75"/><circle cx="585.6" cy="331.9" r="1.75"/><circle cx="594.8" cy="331.9" r="1.75"/><circle cx="604.0" cy="331.9" r="1.75"/><circle cx="613.2" cy="331.9" r="1.75"/><circle cx="622.4" cy="331.9" r="1.75"/><circle cx="631.6" cy="331.9" r="1.75"/><circle cx="640.8" cy="331.9" r="1.75"/><circle cx="576.5" cy="340.8" r="1.75"/><circle cx="585.6" cy="340.8" r="1.75"/><circle cx="594.8" cy="340.8" r="1.75"/><circle cx="604.0" cy="340.8" r="1.75"/><circle cx="613.2" cy="340.8" r="1.75"/><circle cx="622.4" cy="340.8" r="1.75"/><circle cx="631.6" cy="340.8" r="1.75"/><circle cx="640.8" cy="340.8" r="1.75"/></g>
<path d="M225.2,289.8 V340.6 Q225.2,343.7 228.3,343.7 H275.3" fill="none" stroke="#111" stroke-width="1.6"/><polygon points="274.3,340.9 285.0,343.7 274.3,346.5" fill="#111" stroke="#111" stroke-width="0.8" stroke-linejoin="round"/><line x1="283.1" y1="362.3" x2="154.4" y2="362.3" stroke="#111" stroke-width="1.7"/><polygon points="155.4,359.6 144.4,362.3 155.4,365.0" fill="#111" stroke="#111" stroke-width="0.8" stroke-linejoin="round"/><line x1="466.4" y1="343.6" x2="546.0" y2="343.6" stroke="#111" stroke-width="1.7"/><polygon points="545.0,340.8 556.4,343.6 545.0,346.4" fill="#111" stroke="#111" stroke-width="0.8" stroke-linejoin="round"/><line x1="112.7" y1="572.6" x2="146.4" y2="572.6" stroke="#111" stroke-width="1.7"/><polygon points="145.4,569.7 156.8,572.6 145.4,575.5" fill="#111" stroke="#111" stroke-width="0.8" stroke-linejoin="round"/><line x1="299.8" y1="572.4" x2="333.1" y2="572.4" stroke="#111" stroke-width="1.7"/><polygon points="332.1,569.5 344.0,572.4 332.1,575.3" fill="#111" stroke="#111" stroke-width="0.8" stroke-linejoin="round"/><line x1="515.0" y1="572.4" x2="551.6" y2="572.4" stroke="#111" stroke-width="1.7"/><polygon points="550.6,569.5 562.8,572.4 550.6,575.3" fill="#111" stroke="#111" stroke-width="0.8" stroke-linejoin="round"/>
<g font-family="Liberation Sans" fill="#1e1e1e">
<text x="246.5" y="333.9" font-size="10.2" textLength="26.3" lengthAdjust="spacingAndGlyphs">INPUT</text>
<text x="467.2" y="333.6" font-size="10.2" textLength="35.8" lengthAdjust="spacingAndGlyphs">OUTPUT</text>
<text x="185.4" y="378.2" font-size="10" textLength="62.6" lengthAdjust="spacingAndGlyphs">THRU TO AMP</text>
<text x="63.6" y="613.6" font-size="9.6" textLength="40.1" lengthAdjust="spacingAndGlyphs">E-GUITAR</text>
<text x="176" y="613.9" font-size="9.6" textLength="102.6" lengthAdjust="spacingAndGlyphs">PREAMP OR FX DEVICE</text>
<text x="563.7" y="614.2" font-size="9.6" textLength="91.4" lengthAdjust="spacingAndGlyphs">RECORDING SYSTEM</text>
<text x="306.5" y="564.6" font-size="9.6" textLength="24.4" lengthAdjust="spacingAndGlyphs">INPUT</text>
<text x="516.2" y="564.9" font-size="9.6" textLength="33.7" lengthAdjust="spacingAndGlyphs">OUTPUT</text>
</g>
<line x1="47.5" y1="423.6" x2="644.9" y2="423.6" stroke="#6b686e" stroke-width="1.3"/>
<g fill="none" stroke="#111" stroke-width="1.5" stroke-linecap="round" stroke-linejoin="round"><path d="M169.2,548.5 V547.3 Q169.2,545.9 170.6,545.9 H173.4 Q174.8,545.9 174.8,547.3 V548.5"/><path d="M166.4,559 H165.4 Q163.9,559 163.9,561.8 Q163.9,564.6 165.4,564.6 H166.4"/><rect x="166.4" y="548.5" width="42.5" height="40.4" rx="1.8"/><line x1="168.5" y1="566.9" x2="206.7" y2="566.9"/><circle cx="172.00" cy="554.40" r="2.55" stroke-width="1.8"/><path d="M171.90,554.60 L172.20,552.60 L173.80,554.50 Z" fill="#111" stroke="none"/><circle cx="181.60" cy="554.40" r="2.55" stroke-width="1.8"/><path d="M181.50,554.60 L181.80,552.60 L183.40,554.50 Z" fill="#111" stroke="none"/><circle cx="191.80" cy="554.40" r="2.55" stroke-width="1.8"/><path d="M191.70,554.60 L192.00,552.60 L193.60,554.50 Z" fill="#111" stroke="none"/><circle cx="201.40" cy="554.40" r="2.55" stroke-width="1.8"/><path d="M201.30,554.60 L201.60,552.60 L203.20,554.50 Z" fill="#111" stroke="none"/><circle cx="172.90" cy="583.00" r="2.55" stroke-width="1.8"/><path d="M172.80,583.20 L173.10,581.20 L174.70,583.10 Z" fill="#111" stroke="none"/><circle cx="201.40" cy="583.00" r="2.55" stroke-width="1.8"/><path d="M201.30,583.20 L201.60,581.20 L203.20,583.10 Z" fill="#111" stroke="none"/><path d="M226.2,557.5 H225.3 Q223.5,557.5 223.5,560.4 Q223.5,563.3 225.3,563.3 H226.2"/><path d="M249.3,557.5 H250.2 Q252,557.5 252,560.4 Q252,563.3 250.2,563.3 H249.3"/><rect x="226.2" y="545.4" width="23.1" height="44.4" rx="2"/><line x1="228.2" y1="565.5" x2="247.3" y2="565.5"/><rect x="229" y="575.8" width="17" height="9.7"/><circle cx="232.40" cy="552.00" r="2.55" stroke-width="1.8"/><path d="M232.30,552.20 L232.60,550.20 L234.20,552.10 Z" fill="#111" stroke="none"/><circle cx="243.00" cy="552.00" r="2.55" stroke-width="1.8"/><path d="M242.90,552.20 L243.20,550.20 L244.80,552.10 Z" fill="#111" stroke="none"/><circle cx="237.60" cy="560.00" r="2.55" stroke-width="1.8"/><path d="M237.50,560.20 L237.80,558.20 L239.40,560.10 Z" fill="#111" stroke="none"/><path d="M268.3,559.4 H267.4 Q265.6,559.4 265.6,562.1 Q265.6,564.8 267.4,564.8 H268.3"/><path d="M292,559.4 H292.9 Q294.7,559.4 294.7,562.1 Q294.7,564.8 292.9,564.8 H292"/><rect x="268.3" y="546.9" width="23.7" height="42.9" rx="2"/><line x1="270.8" y1="567.3" x2="289.3" y2="567.3"/><circle cx="274.70" cy="553.50" r="2.55" stroke-width="1.8"/><path d="M274.60,553.70 L274.90,551.70 L276.50,553.60 Z" fill="#111" stroke="none"/><circle cx="285.40" cy="553.50" r="2.55" stroke-width="1.8"/><path d="M285.30,553.70 L285.60,551.70 L287.20,553.60 Z" fill="#111" stroke="none"/><circle cx="280.20" cy="561.20" r="2.55" stroke-width="1.8"/><path d="M280.10,561.40 L280.40,559.40 L282.00,561.30 Z" fill="#111" stroke="none"/><circle cx="280.2" cy="582.5" r="3.0"/><circle cx="280.2" cy="582.5" r="0.6" fill="#111" stroke="none"/></g>
<g fill="none" stroke="#0a0a0a" stroke-width="1.8" stroke-linecap="round" stroke-linejoin="round"><circle cx="583.2" cy="545.5" r="19.1"/><circle cx="583.2" cy="545.5" r="4.2"/><line x1="583.2" y1="529.7" x2="583.2" y2="537.9"/><line x1="569.7" y1="553.7" x2="577.5" y2="549.7"/><line x1="596.7" y1="553.7" x2="588.9" y2="549.7"/><circle cx="630.2" cy="545.5" r="19.1"/><circle cx="630.2" cy="545.5" r="4.2"/><line x1="630.2" y1="529.7" x2="630.2" y2="537.9"/><line x1="616.7" y1="553.7" x2="624.5" y2="549.7"/><line x1="643.7" y1="553.7" x2="635.9" y2="549.7"/><line x1="602.3" y1="539.8" x2="611.1" y2="539.8"/><path d="M573.3,561.5 V596.3 Q573.3,599.1 576.1,599.1 H637.6 Q640.4,599.1 640.4,596.3 V561.5"/><path d="M599.2,563.2 V567.6 Q599.2,570.5 602.1,570.5 H611.7 Q614.6,570.5 614.6,567.6 V563.2 Z"/><line x1="573.3" y1="576.5" x2="640.4" y2="576.5"/><rect x="590.4" y="582.4" width="14" height="5.7"/><rect x="609.6" y="582.4" width="13.6" height="5.7"/><g stroke-width="1.5" stroke-linecap="butt"><line x1="577.5" y1="571.8" x2="580.2" y2="571.8"/><line x1="583.4" y1="571.8" x2="586.1" y2="571.8"/><line x1="589.3" y1="571.8" x2="592.0" y2="571.8"/><line x1="621.4" y1="571.8" x2="624.1" y2="571.8"/><line x1="627.3" y1="571.8" x2="630.0" y2="571.8"/><line x1="633.2" y1="571.8" x2="635.9" y2="571.8"/></g></g><g fill="#111"><circle cx="580.4" cy="585.1" r="0.85"/><circle cx="633.2" cy="585.1" r="0.85"/><circle cx="580.4" cy="592.6" r="1.6"/><circle cx="633.2" cy="592.6" r="1.6"/><circle cx="592.0" cy="593.7" r="0.85"/><circle cx="602.3" cy="593.7" r="0.85"/><circle cx="611.2" cy="593.7" r="0.85"/><circle cx="621.4" cy="593.7" r="0.85"/></g>
</svg>
</body></html>
